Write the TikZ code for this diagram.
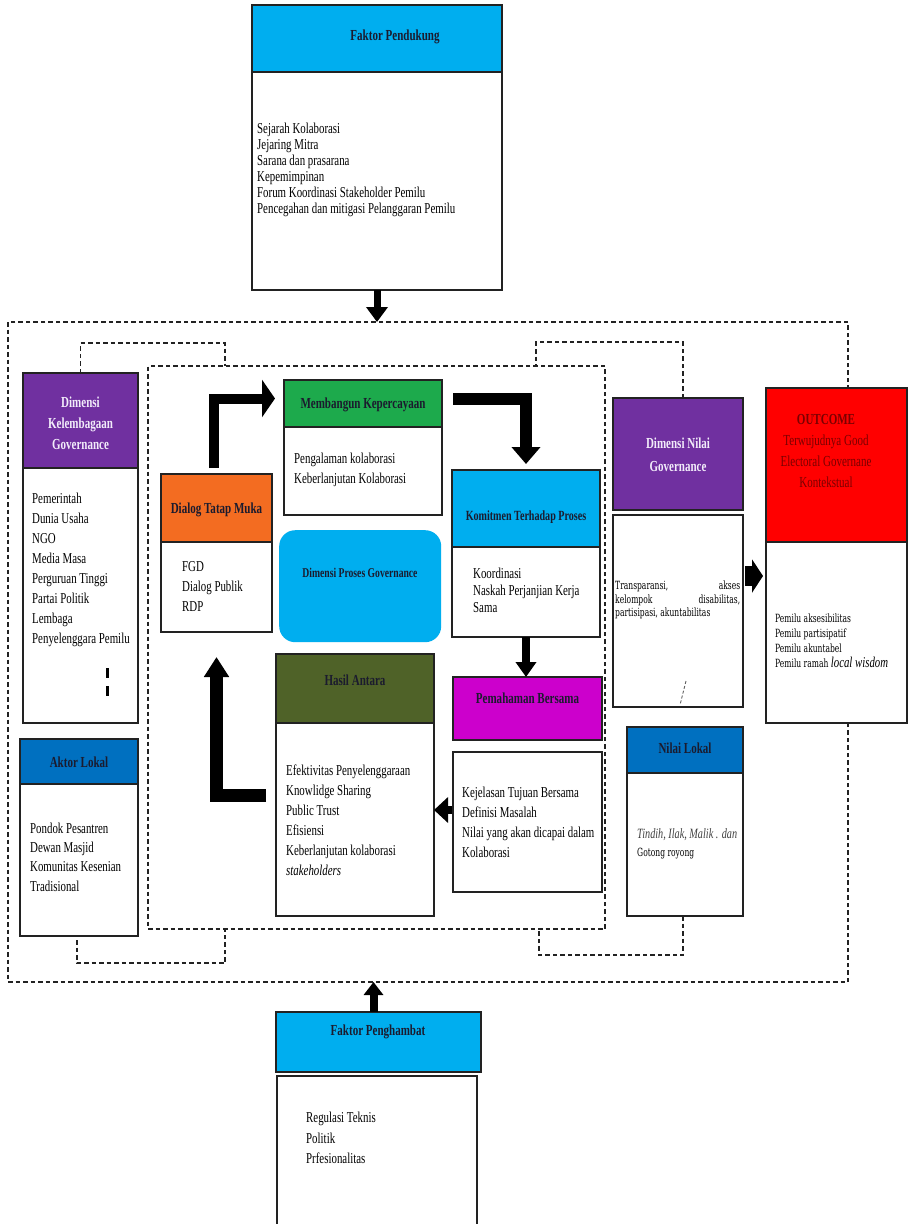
\documentclass[tikz,border=0pt]{standalone}
\usepackage{fontspec}
\setmainfont{Liberation Serif}[FakeStretch=0.72]
\newfontfamily\bkfont{DejaVu Serif}[FakeStretch=0.67]
\usetikzlibrary{arrows.meta,calc}
\definecolor{skyb}{HTML}{00AEEF}
\definecolor{purp}{HTML}{7030A0}
\definecolor{oran}{HTML}{F36C21}
\definecolor{grn}{HTML}{1DAA4C}
\definecolor{oliv}{HTML}{4F6228}
\definecolor{magn}{HTML}{CC00CC}
\definecolor{blu}{HTML}{0070C0}
\definecolor{redd}{HTML}{FF0000}
\definecolor{ink}{HTML}{1B1B2E}
\definecolor{lav}{HTML}{F2ECFA}
\definecolor{mar}{HTML}{7A0000}
\definecolor{edge}{HTML}{222222}
\begin{document}
\begin{tikzpicture}[x=1pt,y=-1pt,
  boxnode/.style={draw=edge, line width=1.3pt, anchor=north west, inner sep=0pt, outer sep=0pt, fill=white},
  htxt/.style={inner sep=0pt, align=center, text=ink, font=\fontsize{15.3}{21}\selectfont\bfseries},
  btxt/.style={inner sep=0pt, anchor=west, align=left, text=black, font=\fontsize{15.1}{20}\selectfont},
  smtxt/.style={inner sep=0pt, anchor=west, align=left, text=black, font=\bkfont\fontsize{11.3}{15}\selectfont},
  dline/.style={line width=1.3pt, dash pattern=on 4.5pt off 3pt, draw=edge},
  frame/.style={dline, anchor=north west, inner sep=0pt, outer sep=0pt},
  fat/.style={draw=black, line join=miter}
]
\clip (0,0) rectangle (909,1224);
\fill[white] (0,0) rectangle (909,1224);

% helper coordinates
\coordinate (y795) at (0,795);
\coordinate (y810) at (0,810);
\coordinate (y576) at (0,576);

% dashed frames
\node[frame, minimum width=840pt, minimum height=660pt] (outer) at (8,322) {};
\node[frame, minimum width=457pt, minimum height=563pt] (proc) at (148,366) {};

% Faktor Pendukung
\node[boxnode, fill=skyb, minimum width=250pt, minimum height=67pt] (fph) at (252,5) {};
\node[boxnode, minimum width=250pt, minimum height=218pt] (fpb) at (252,72) {};
\node[htxt] (fpt) at (395,37) {Faktor Pendukung};
\node[btxt, font=\fontsize{15.1}{16}\selectfont] (fpl) at (257,170) {Sejarah Kolaborasi\\Jejaring Mitra\\Sarana dan prasarana\\Kepemimpinan\\Forum Koordinasi Stakeholder Pemilu\\Pencegahan dan mitigasi Pelanggaran Pemilu};

% Dimensi Kelembagaan Governance
\node[boxnode, fill=purp, minimum width=115pt, minimum height=95pt] (dkgh) at (23,373) {};
\node[boxnode, minimum width=115pt, minimum height=255pt] (dkgb) at (23,468) {};
\node[htxt, text=lav] (dkgt) at (80.5,423) {Dimensi\\Kelembagaan\\Governance};
\node[btxt] (dkgl) at (32,570) {Pemerintah\\Dunia Usaha\\NGO\\Media Masa\\Perguruan Tinggi\\Partai Politik\\Lembaga\\Penyelenggara Pemilu};

% Aktor Lokal
\node[boxnode, fill=blu, minimum width=118pt, minimum height=45pt] (alh) at (20,739) {};
\node[boxnode, minimum width=118pt, minimum height=152pt] (alb) at (20,784) {};
\node[htxt] (alt) at (79,762) {Aktor Lokal};
\node[btxt, font=\fontsize{15.1}{19.3}\selectfont] (all) at (30,857) {Pondok Pesantren\\Dewan Masjid\\Komunitas Kesenian\\Tradisional};

% Dialog Tatap Muka
\node[boxnode, fill=oran, minimum width=111pt, minimum height=68pt] (dtmh) at (161,474) {};
\node[boxnode, minimum width=111pt, minimum height=90pt] (dtmb) at (161,542) {};
\node[htxt] (dtmt) at (216.5,510) {Dialog Tatap Muka};
\node[btxt] (dtml) at (182,587) {FGD\\Dialog Publik\\RDP};

% Membangun Kepercayaan
\node[boxnode, fill=grn, minimum width=158pt, minimum height=47pt] (mkh) at (284,380) {};
\node[boxnode, minimum width=158pt, minimum height=88pt] (mkb) at (284,427) {};
\node[htxt] (mkt) at (363,405) {Membangun Kepercayaan};
\node[btxt] (mkl) at (294,470) {Pengalaman kolaborasi\\Keberlanjutan Kolaborasi};

% Komitmen Terhadap Proses
\node[boxnode, fill=skyb, minimum width=148pt, minimum height=77pt] (kth) at (452,470) {};
\node[boxnode, minimum width=148pt, minimum height=90pt] (ktb) at (452,547) {};
\node[htxt, font=\fontsize{14}{15}\selectfont\bfseries] (ktt) at (526,517) {Komitmen Terhadap Proses};
\node[btxt, font=\fontsize{15.1}{17}\selectfont] (ktl) at (473,590) {Koordinasi\\Naskah Perjanjian Kerja\\Sama};

% Dimensi Proses Governance
\node[fill=skyb, rounded corners=16pt, anchor=north west, inner sep=0pt, minimum width=162pt, minimum height=112pt] (dpg) at (279,530) {};
\node[htxt, font=\fontsize{13.4}{15}\selectfont\bfseries] (dpgt) at (360,573) {Dimensi Proses Governance};

% Pemahaman Bersama
\node[boxnode, fill=magn, minimum width=149pt, minimum height=63pt] (pmh) at (453,677) {};
\node[boxnode, minimum width=149pt, minimum height=140pt] (pmb) at (453,752) {};
\node[htxt] (pmt) at (527.5,698) {Pemahaman Bersama};
\node[btxt] (pml) at (462,822) {Kejelasan Tujuan Bersama\\Definisi Masalah\\Nilai yang akan dicapai dalam\\Kolaborasi};

% Hasil Antara
\node[boxnode, fill=oliv, minimum width=158pt, minimum height=69pt] (hah) at (276,654) {};
\node[boxnode, minimum width=158pt, minimum height=193pt] (hab) at (276,723) {};
\node[htxt] (hat) at (355,680) {Hasil Antara};
\node[btxt] (hal) at (286,820) {Efektivitas Penyelenggaraan\\Knowlidge Sharing\\Public Trust\\Efisiensi\\Keberlanjutan kolaborasi\\\textit{stakeholders}};

% Dimensi Nilai Governance
\node[boxnode, fill=purp, minimum width=130pt, minimum height=112pt] (dngh) at (613,398) {};
\node[boxnode, minimum width=130pt, minimum height=192pt] (dngb) at (613,515) {};
\node[htxt, text=lav, font=\fontsize{15.3}{23}\selectfont\bfseries] (dngt) at (678,455) {Dimensi Nilai\\Governance};
\node[smtxt, font=\bkfont\fontsize{11.3}{13.5}\selectfont] (dngl) at (615,600) {\makebox[125pt][s]{Transparansi,\hfill akses}\\\makebox[125pt][s]{kelompok\hfill disabilitas,}\\partisipasi, akuntabilitas};

% OUTCOME
\node[boxnode, fill=redd, minimum width=141pt, minimum height=154pt] (outh) at (766,388) {};
\node[boxnode, minimum width=141pt, minimum height=181pt] (outb) at (766,542) {};
\node[htxt, text=mar, font=\fontsize{15.3}{20.7}\selectfont] (outt) at (826,451) {\textbf{OUTCOME}\\Terwujudnya Good\\Electoral Governane\\Kontekstual};
\node[smtxt] (outl) at (775,640.5) {Pemilu aksesibilitas\\Pemilu partisipatif\\Pemilu akuntabel\\Pemilu ramah {\rmfamily\fontsize{15}{15}\selectfont\itshape local wisdom}};

% Nilai Lokal
\node[boxnode, fill=blu, minimum width=116pt, minimum height=46pt] (nlh) at (627,727) {};
\node[boxnode, minimum width=116pt, minimum height=143pt] (nlb) at (627,773) {};
\node[htxt] (nlt) at (685,748) {Nilai Lokal};
\node[btxt, font=\fontsize{14.2}{18}\selectfont] (nll) at (637,844) {{\itshape\color{black!75}Tindih, Ilak, Malik . dan}\\{\bkfont\fontsize{11.3}{18}\selectfont Gotong royong}};

% Faktor Penghambat
\node[boxnode, fill=skyb, minimum width=205pt, minimum height=60pt] (fphh) at (276,1012) {};
\node[boxnode, minimum width=200pt, minimum height=170pt] (fphb) at (277,1076) {};
\node[htxt] (fpht) at (378,1032) {Faktor Penghambat};
\node[btxt, font=\fontsize{15.1}{20.5}\selectfont] (fphl) at (306,1138) {Regulasi Teknis\\Politik\\Prfesionalitas};

% dashed connectors
\coordinate (k1) at (225,343);
\draw[dline] (dkgh.north) |- (k1) -- (k1 |- proc.north);
\coordinate (k2) at (536,342);
\draw[dline] ($(dngh.north)+(5,0)$) |- (k2) -- (k2 |- proc.north);
\coordinate (k3) at (225,963);
\draw[dline] ($(alb.south)+(-2,4)$) |- (k3) -- (k3 |- proc.south);
\coordinate (k4) at (539,955);
\draw[dline] ($(nlb.south)+(-2,0)$) |- (k4) -- (k4 |- proc.south);

% small marks
\draw[line width=3pt, dash pattern=on 10pt off 8pt] (107,668) -- (107,697);
\draw[line width=0.9pt, dash pattern=on 3pt off 2pt, draw=edge!70] (686,681) -- (680,705);

% thick arrows
\draw[fat, line width=7pt, -{Triangle[width=21pt,length=15pt]}] (fpb.south) -- (fpb.south |- outer.north);
\draw[fat, line width=10pt, -{Triangle[width=37pt,length=13pt]}] ($(dtmh.north)+(-3,-6)$) |- ($(mkh.west)+(-9,-5)$);
\draw[fat, line width=12pt, -{Triangle[width=28pt,length=17pt]}] ($(mkh.east)+(11,-5)$) -| ($(kth.north)+(0,-6)$);
\draw[fat, line width=8pt, -{Triangle[width=20pt,length=15pt]}] (ktb.south) -- (ktb.south |- pmh.north);
\draw[fat, line width=8pt, -{Triangle[width=25pt,length=14pt]}] ($(pmb.west |- y810)+(-1,0)$) -- (hab.east |- y810);
\draw[fat, line width=13pt, -{Triangle[width=24pt,length=20pt]}] ($(hab.west |- y795)+(-10,0)$) -| ($(dtmb.south)+(0,25)$);
\draw[fat, line width=20pt, -{Triangle[width=33pt,length=11pt]}] ($(dngb.east |- y576)+(2,0)$) -- ($(outb.west |- y576)+(-3,0)$);
\draw[fat, line width=8pt, -{Triangle[width=19pt,length=13pt]}] ($(fphh.north)+(-5,0)$) -- ($(fphh.north |- outer.south)+(-5,0)$);
\end{tikzpicture}
\end{document}
